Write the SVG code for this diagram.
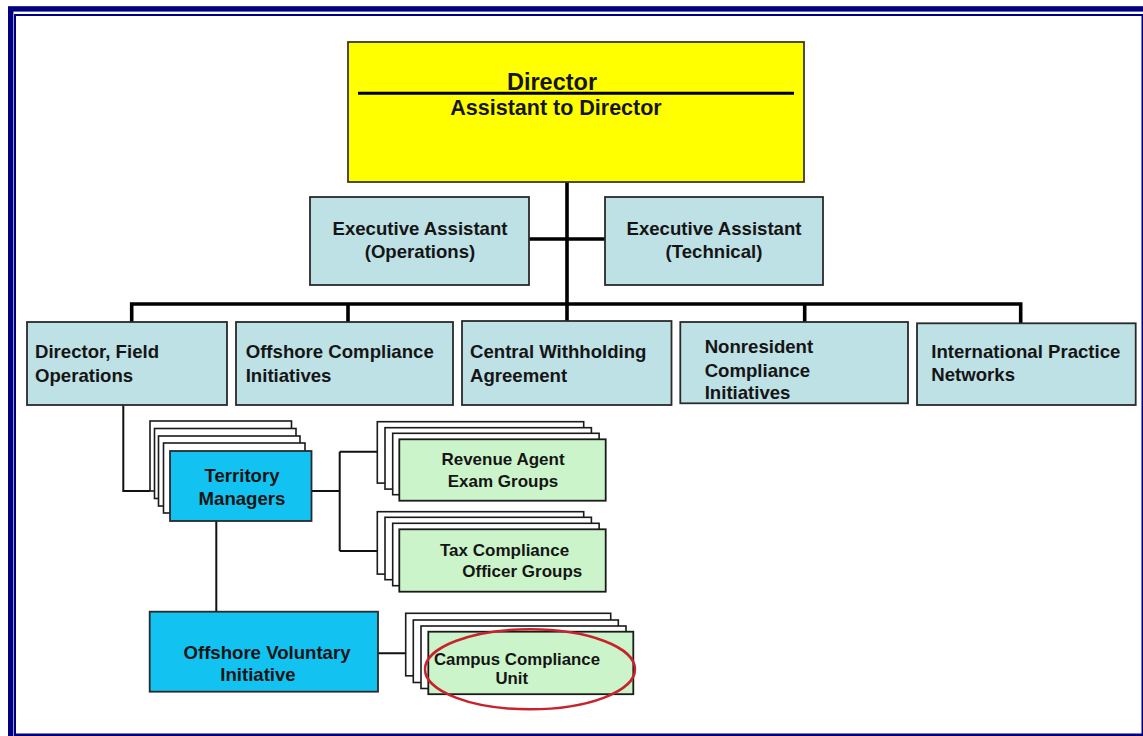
<svg xmlns="http://www.w3.org/2000/svg" width="1143" height="736" viewBox="0 0 1143 736">
<style>
text{font-family:"Liberation Sans",Arial,sans-serif;font-weight:bold;fill:#151515}
.big{font-size:18.6px}
.sm{font-size:17px}
.box{fill:#bde1e5;stroke:#2a2a2a;stroke-width:1.8}
.cyan{fill:#12c3f2;stroke:#2a2a2a;stroke-width:1.8}
.green{fill:#ccf4ca;stroke:#1a1a1a;stroke-width:1.8}
.back{fill:#fff;stroke:#1a1a1a;stroke-width:1.6}
.thick{stroke:#000;stroke-width:3.6;fill:none}
.thin{stroke:#111;stroke-width:2;fill:none}
.m{text-anchor:middle}
</style>
<rect width="1143" height="736" fill="#fff"/>
<g id="border" fill="none" stroke="#000080">
<rect x="10.7" y="8.9" width="1150" height="750" stroke-width="5.4"/>
<rect x="15" y="15" width="1127.5" height="719.5" stroke-width="2"/>
<rect x="14" y="734" width="1129" height="2" fill="#000080" stroke="none"/>
</g>
<g id="connectors">
<path class="thick" d="M567,182 V322 M529,239 H605 M131.7,322 V304 H1020.7 V323 M348,304 V322 M804.7,304 V322"/>
<path class="thin" d="M123.3,405 V491 H150 M311.5,491 H339.7 M339.7,451.7 V551 M339.7,451.7 H377.3 M339.7,551 H377.3 M216.3,521 V611.7 M378,653.3 H405.7"/>
</g>
<g id="director">
<rect x="348" y="42" width="456" height="140" fill="#ffff00" stroke="#3a3a2a" stroke-width="1.8"/>
<line x1="358" y1="93.3" x2="794" y2="93.3" stroke="#000" stroke-width="3"/>
<text class="m" x="552" y="90" style="font-size:23.5px">Director</text>
<text class="m" x="556" y="115" style="font-size:21.5px">Assistant to Director</text>
</g>
<g id="exec-ops">
<rect class="box" x="310" y="197" width="219" height="88"/>
<text class="big m" x="420" y="235">Executive Assistant</text>
<text class="big m" x="420" y="258">(Operations)</text>
</g>
<g id="exec-tech">
<rect class="box" x="605" y="197" width="218" height="88"/>
<text class="big m" x="714" y="235">Executive Assistant</text>
<text class="big m" x="714" y="258">(Technical)</text>
</g>
<g id="dir-field-ops">
<rect class="box" x="27" y="322" width="200" height="83"/>
<text class="big" x="35" y="358">Director, Field</text>
<text class="big" x="35" y="381.7">Operations</text>
</g>
<g id="offshore-compliance">
<rect class="box" x="236" y="322" width="217" height="83"/>
<text class="big" x="245.7" y="358">Offshore Compliance</text>
<text class="big" x="245.7" y="381.7">Initiatives</text>
</g>
<g id="central-withholding">
<rect class="box" x="462" y="321" width="209.5" height="84"/>
<text class="big" x="470" y="358">Central Withholding</text>
<text class="big" x="470" y="381.7">Agreement</text>
</g>
<g id="nonresident">
<rect class="box" x="680.3" y="322" width="227.7" height="81.3"/>
<text class="big" x="704.7" y="353.3">Nonresident</text>
<text class="big" x="704.7" y="376.7">Compliance</text>
<text class="big" x="704.7" y="399.3">Initiatives</text>
</g>
<g id="international">
<rect class="box" x="917" y="323.3" width="218.7" height="81.7"/>
<text class="big" x="931.3" y="358.3">International Practice</text>
<text class="big" x="931.3" y="380.7">Networks</text>
</g>
<g id="territory-managers">
<rect class="back" x="150" y="421" width="141.5" height="70"/>
<rect class="back" x="154.5" y="428.5" width="141.5" height="70"/>
<rect class="back" x="158.5" y="436" width="141.5" height="70"/>
<rect class="back" x="163.5" y="443" width="141.5" height="70"/>
<rect class="cyan" x="170" y="451" width="141.5" height="70"/>
<text class="big m" x="242" y="481.7">Territory</text>
<text class="big m" x="242" y="505">Managers</text>
</g>
<g id="revenue-agent">
<rect class="back" x="377.3" y="421.7" width="206.4" height="61.4"/>
<rect class="back" x="385" y="427.7" width="206.4" height="61.4"/>
<rect class="back" x="392.7" y="433.3" width="206.4" height="61.4"/>
<rect class="green" x="399.3" y="439.3" width="206.4" height="61.4"/>
<text class="sm m" x="503" y="465">Revenue Agent</text>
<text class="sm m" x="503" y="487.3">Exam Groups</text>
</g>
<g id="tax-compliance">
<rect class="back" x="377.3" y="511.7" width="206.4" height="62.4"/>
<rect class="back" x="385" y="517.3" width="206.4" height="62.4"/>
<rect class="back" x="392.7" y="523.3" width="206.4" height="62.4"/>
<rect class="green" x="399.3" y="529.3" width="206.4" height="62.4"/>
<text class="sm" x="440" y="556">Tax Compliance</text>
<text class="sm" x="462.3" y="577.3">Officer Groups</text>
</g>
<g id="offshore-voluntary">
<rect class="cyan" x="149.7" y="611.7" width="228.3" height="80"/>
<text class="big m" x="267" y="659.3">Offshore Voluntary</text>
<text class="big m" x="258" y="680.7">Initiative</text>
</g>
<g id="campus-compliance">
<rect class="back" x="405.7" y="613.3" width="205" height="62.5"/>
<rect class="back" x="413.3" y="620" width="205" height="62.5"/>
<rect class="back" x="421" y="626" width="205" height="62.5"/>
<rect class="green" x="428.3" y="631.7" width="205" height="62.5"/>
<text class="sm" x="434" y="664.5" style="font-size:16.8px">Campus Compliance</text>
<text class="sm m" x="511.7" y="684" style="font-size:16.8px">Unit</text>
<ellipse cx="530" cy="669.3" rx="105" ry="40" fill="none" stroke="#c8232c" stroke-width="2.5"/>
</g>
</svg>
